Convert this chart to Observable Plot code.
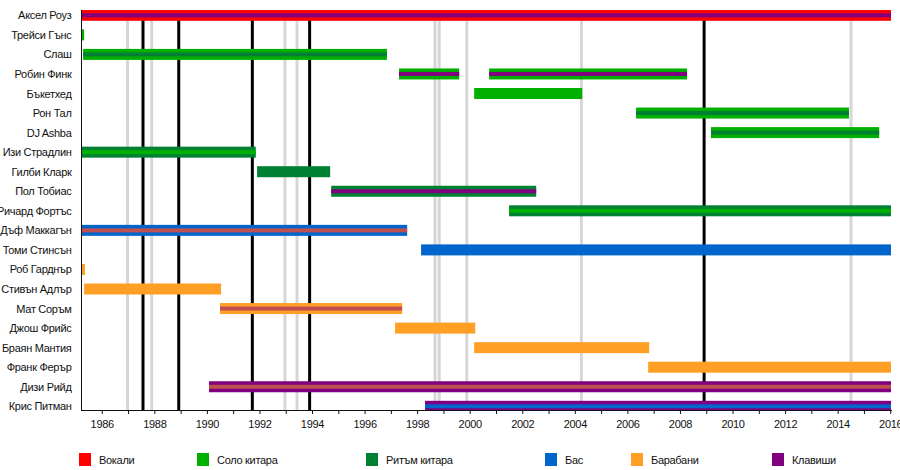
<!DOCTYPE html>
<html>
<head>
<meta charset="utf-8">
<script src="https://cdn.jsdelivr.net/npm/d3@7"></script>
<script src="https://cdn.jsdelivr.net/npm/@observablehq/plot@0.6"></script>
<style>
  html, body { margin: 0; padding: 0; background: #fff; }
  body { width: 900px; height: 470px; overflow: hidden; font-family: "Liberation Sans", Arial, sans-serif; }
  #chart svg text { letter-spacing: -0.3px; }
  #legend { position: relative; width: 900px; height: 30px; font-size: 11px; color: #111; letter-spacing: -0.3px; }
  .item { position: absolute; top: 13px; display: flex; align-items: center; }
  .sw { width: 12px; height: 13px; margin-right: 8px; }
</style>
</head>
<body>
<div id="chart"></div>
<div id="legend"></div>
<script>
// ---- data ----
const members = ["Аксел Роуз","Трейси Гънс","Слаш","Робин Финк","Бъкетхед","Рон Тал","DJ Ashba","Изи Страдлин","Гилби Кларк","Пол Тобиас","Ричард Фортъс","Дъф Маккагън","Томи Стинсън","Роб Гарднър","Стивън Адлър","Мат Соръм","Джош Фрийс","Браян Мантия","Франк Ферър","Дизи Рийд","Крис Питман"];

const roles = ["Вокали","Соло китара","Ритъм китара","Бас","Барабани","Клавиши","Бек вокали"];
const roleColors = ["#ff0000","#00b000","#008033","#0066cc","#ff9f26","#800080","#c05050"];
const legendRoles = ["Вокали","Соло китара","Ритъм китара","Бас","Барабани","Клавиши"];

const spanMember = ["Аксел Роуз","Трейси Гънс","Слаш","Робин Финк","Робин Финк","Бъкетхед","Рон Тал","DJ Ashba","Изи Страдлин","Гилби Кларк","Пол Тобиас","Ричард Фортъс","Дъф Маккагън","Томи Стинсън","Роб Гарднър","Стивън Адлър","Мат Соръм","Джош Фрийс","Браян Мантия","Франк Ферър","Дизи Рийд","Крис Питман"];
const spanStart = [1985.21,1985.21,1985.29,1997.31,2000.74,2000.17,2006.33,2009.18,1985.21,1991.91,1994.73,2001.50,1985.24,1998.15,1985.21,1985.33,1990.50,1997.16,2000.17,2006.79,1990.08,1998.30];
const spanEnd   = [2016.03,1985.33,1996.85,1999.60,2008.27,2004.28,2014.43,2015.58,1991.86,1994.69,2002.53,2016.03,1997.62,2016.03,1985.36,1990.54,1997.43,2000.21,2006.83,2016.03,2016.03,2016.03];
const spanRole  = ["Вокали","Соло китара","Соло китара","Соло китара","Соло китара","Соло китара","Соло китара","Соло китара","Ритъм китара","Ритъм китара","Ритъм китара","Ритъм китара","Бас","Бас","Барабани","Барабани","Барабани","Барабани","Барабани","Барабани","Клавиши","Клавиши"];
const spanStripe = ["Клавиши",null,"Ритъм китара","Клавиши","Клавиши",null,"Ритъм китара","Ритъм китара","Соло китара",null,"Клавиши","Соло китара","Бек вокали",null,null,null,"Бек вокали",null,null,null,"Бек вокали","Бас"];

const albumReleases = [1987.55, 1988.91, 1991.71, 1993.89, 2008.90];
const otherReleases = [1986.96, 1987.88, 1992.95, 1993.41, 1998.66, 1998.82, 1999.87, 2004.23, 2014.49];

const tickYears = d3.range(1986, 2017);
const xDomain = [1985.21, 2016.03];

// ---- build tables ----
const spans = spanMember.map((m, i) => ({member: m, start: spanStart[i], end: spanEnd[i], role: spanRole[i], stripe: spanStripe[i]}));
const stripes = spans.filter(d => d.stripe);

const W = 900, H = 440, MT = 10, MB = 30;
const step = 19.55;
const bandTop = 15.3 - step / 2;
const yRange = [bandTop, bandTop + step * members.length];
const barInset = (step - 11) / 2;
const stripeInset = (step - 4) / 2;

const chart = Plot.plot({
  width: W,
  height: H,
  marginLeft: 81,
  marginRight: 9,
  marginTop: MT,
  marginBottom: MB,
  style: {fontFamily: "'Liberation Sans', Arial, sans-serif", fontSize: "11px", color: "#111", background: "#fff"},
  x: {domain: xDomain, label: null},
  y: {domain: members, range: yRange, padding: 0, round: false, label: null},
  color: {domain: roles, range: roleColors},
  marks: [
    Plot.ruleX(otherReleases, {stroke: "#d6d6d6", strokeWidth: 3}),
    Plot.ruleX(albumReleases, {stroke: "#000", strokeWidth: 3}),
    Plot.barX(spans, {x1: "start", x2: "end", y: "member", fill: "role", insetTop: barInset, insetBottom: barInset, clip: "frame"}),
    Plot.barX(stripes, {x1: "start", x2: "end", y: "member", fill: "stripe", insetTop: stripeInset, insetBottom: stripeInset, clip: "frame"}),
    Plot.axisY({tickSize: 0, tickPadding: 10, fontSize: 11}),
    Plot.axisX({ticks: tickYears, tickFormat: d => d % 2 === 0 ? String(d) : "", tickSize: 4, tickPadding: 6, fontSize: 11}),
    Plot.frame({anchor: "left"}),
    Plot.frame({anchor: "bottom"})
  ]
});
document.getElementById("chart").appendChild(chart);

// ---- legend ----
const legendLeft = [79, 197, 366, 545, 631, 772];
const legend = d3.select("#legend");
legendRoles.forEach((r, i) => {
  const it = legend.append("div").attr("class", "item").style("left", legendLeft[i] + "px");
  it.append("div").attr("class", "sw").style("background", roleColors[roles.indexOf(r)]);
  it.append("span").text(r);
});
</script>
</body>
</html>
